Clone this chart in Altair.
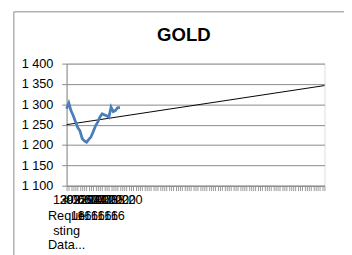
import altair as alt
import pandas as pd

# ---- data ----
gold_values = [1289, 1303, 1284, 1272, 1257, 1243, 1235, 1216, 1210, 1207,
               1214, 1220, 1233, 1247, 1256, 1269, 1277, 1274, 1272, 1268,
               1293, 1282, 1285, 1292, 1292]
n_categories = 117
trend_values = [1250, 1346]
y_ticks = [1100, 1150, 1200, 1250, 1300, 1350, 1400]
title_text = "GOLD"
first_label_lines = ["#", "Reque", "sting", "Data..."]
date_label_pos = [5, 8, 11, 14, 17, 20, 23]
date_label_top = ["13.06.20", "29.06.20", "09.07.20", "22.07.20", "29.07.20", "04.08.20", "24.08.20"]
date_label_bottom = ["16", "16", "16", "16", "16", "16", "16"]

gold_df = pd.DataFrame({"idx": list(range(len(gold_values))), "value": gold_values})
trend_df = pd.DataFrame({"idx": [0, n_categories - 1], "value": trend_values})

FONT = "Liberation Sans"
GRAY = "#888888"
ROW_Y = [140, 156, 171, 186]

xscale = alt.Scale(domain=[0, n_categories - 1], nice=False, zero=False)
yscale = alt.Scale(domain=[1100, 1400], nice=False, zero=False)

x_axis = alt.Axis(title=None, values=list(range(n_categories)), labels=False, grid=False,
                  tickSize=5, tickColor="#999999", domainColor=GRAY, tickWidth=1)
y_axis = alt.Axis(title=None, values=y_ticks, grid=True, gridColor=GRAY, tickSize=5,
                  tickColor=GRAY, domainColor=GRAY, labelFont=FONT, labelFontSize=13,
                  labelColor="black", labelPadding=9, labelOverlap=False,
                  labelExpr="replace(format(datum.value, ','), ',', ' ')")


def X():
    return alt.X("idx:Q", scale=xscale, axis=x_axis)


def Y():
    return alt.Y("value:Q", scale=yscale, axis=y_axis)


one = alt.Data(values=[{}])

border = alt.Chart(one).mark_rect(fill="transparent", stroke=GRAY, strokeWidth=1).encode(
    x=alt.value(-54), x2=alt.value(300), y=alt.value(-53), y2=alt.value(220))
title = alt.Chart(one).mark_text(text=title_text, font=FONT, fontSize=19, fontWeight="bold",
                                 align="center", baseline="alphabetic", color="black").encode(
    x=alt.value(120), y=alt.value(-23))

gold = alt.Chart(gold_df).mark_line(color="#4a7ebb", strokeWidth=2.8).encode(x=X(), y=Y())
trend = alt.Chart(trend_df).mark_line(color="black", strokeWidth=1).encode(x=X(), y=Y())

label_layers = []
for r, line in enumerate(first_label_lines):
    df = pd.DataFrame({"idx": [0], "line": [line]})
    label_layers.append(alt.Chart(df).mark_text(
        font=FONT, fontSize=13, align="center", baseline="middle", color="black").encode(
        x=X(), text="line:N", y=alt.value(ROW_Y[r])))

for r, lines in enumerate([date_label_top, date_label_bottom]):
    df = pd.DataFrame({"idx": date_label_pos, "line": lines})
    label_layers.append(alt.Chart(df).mark_text(
        font=FONT, fontSize=13, align="center", baseline="middle", color="black").encode(
        x=X(), text="line:N", y=alt.value(ROW_Y[r])))

chart = alt.layer(border, trend, gold, title, *label_layers).properties(
    width=264, height=125,
    autosize=alt.AutoSizeParams(type="none"),
    padding={"left": 60, "top": 54, "right": 20, "bottom": 68},
).configure_view(strokeWidth=0, strokeOpacity=0).configure(background="white")

chart.save("out.html", embed_options={"renderer": "svg", "actions": False})
